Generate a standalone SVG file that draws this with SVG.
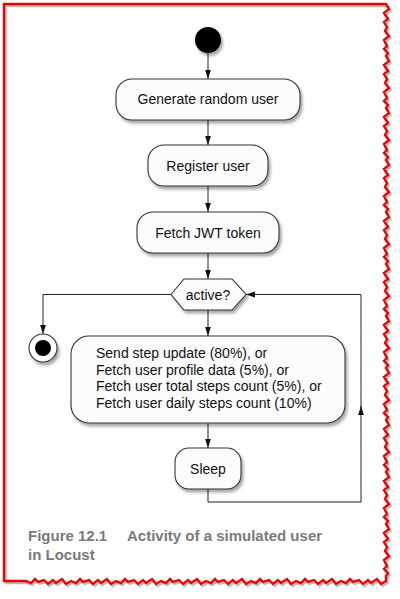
<svg xmlns="http://www.w3.org/2000/svg" width="400" height="599" viewBox="0 0 400 599">
<defs>
<marker id="ah" viewBox="0 0 10 10" refX="10" refY="5" markerWidth="9" markerHeight="9" markerUnits="userSpaceOnUse" orient="auto">
<path d="M0,1.8 L10,5 L0,8.2 Z" fill="#111"/>
</marker>
<filter id="sh" x="-20%" y="-20%" width="150%" height="160%">
<feGaussianBlur in="SourceAlpha" stdDeviation="1.6"/>
<feOffset dx="2" dy="2.5" result="b"/>
<feComponentTransfer><feFuncA type="linear" slope="0.35"/></feComponentTransfer>
<feMerge><feMergeNode/><feMergeNode in="SourceGraphic"/></feMerge>
</filter>
<path id="frame" fill="none" stroke-linejoin="miter" d="M4,4 L386,4
l3,5 l-5,4 l4,6 l-4,3 l3,5 l-2,4 l4,5 l-5,4 l3,6 l-3,3 l4,4 l-2,3
l3,5 l-5,4 l4,6 l-4,3 l3,5 l-2,4 l4,5 l-5,4 l3,6 l-3,3 l4,4 l-2,3
l3,5 l-5,4 l4,6 l-4,3 l3,5 l-2,4 l4,5 l-5,4 l3,6 l-3,3 l4,4 l-2,3
l3,5 l-5,4 l4,6 l-4,3 l3,5 l-2,4 l4,5 l-5,4 l3,6 l-3,3 l4,4 l-2,3
l3,5 l-5,4 l4,6 l-4,3 l3,5 l-2,4 l4,5 l-5,4 l3,6 l-3,3 l4,4 l-2,3
l3,5 l-5,4 l4,6 l-4,3 l3,5 l-2,4 l4,5 l-5,4 l3,6 l-3,3 l4,4 l-2,3
l3,5 l-5,4 l4,6 l-4,3 l3,5 l-2,4 l4,5 l-5,4 l3,6 l-3,3 l4,4 l-2,3
l3,5 l-5,4 l4,6 l-4,3 l3,5 l-2,4 l4,5 l-5,4 l3,6 l-3,3 l4,4 l-2,3
l3,5 l-5,4 l4,6 l-4,3 l3,5 l-2,4 l4,5 l-5,4 l3,6 l-3,3 l4,4 l-2,3
l3,5 l-5,4 l4,6 l-4,3 l3,5 l-2,4 l4,5 l-5,4 l3,6 l-3,3 l4,4 l-2,3
l3,5 l-5,4 l4,6 l-4,3 l3,5 l-2,4 l4,5 l-5,4 l3,6 l-3,3 l4,4 l-2,3
L386,581
l-5,3 l-4,-5 l-6,4 l-3,-3 l-5,4 l-4,-4 l-6,2 l-3,-3 l-4,4 l-5,-2
l-5,3 l-4,-5 l-6,4 l-3,-3 l-5,4 l-4,-4 l-6,2 l-3,-3 l-4,4 l-5,-2
l-5,3 l-4,-5 l-6,4 l-3,-3 l-5,4 l-4,-4 l-6,2 l-3,-3 l-4,4 l-5,-2
l-5,3 l-4,-5 l-6,4 l-3,-3 l-5,4 l-4,-4 l-6,2 l-3,-3 l-4,4 l-5,-2
l-5,3 l-4,-5 l-6,4 l-3,-3 l-5,4 l-4,-4 l-6,2 l-3,-3 l-4,4 l-5,-2
l-5,3 l-4,-5 l-6,4 l-3,-3 l-5,4 l-4,-4 l-6,2 l-3,-3 l-4,4 l-5,-2
l-5,3 l-4,-5 l-6,4 l-3,-3 l-5,4 l-4,-4 l-6,2 l-3,-3 l-4,4 l-5,-2
l-5,3 l-4,-5 l-6,4 l-3,-3 l-5,4 l-4,-4 l-6,2 l-3,-3 l-4,4 l-5,-2
L4,581 Z"/>
</defs>
<style>
.box{fill:#fcfcfc;stroke:#333;stroke-width:1.1;filter:url(#sh)}
.t{font-family:"Liberation Sans",Arial,sans-serif;font-size:14px;fill:#111}
.c{text-anchor:middle}
.ln{fill:none;stroke:#222;stroke-width:1}
.cap{font-family:"Liberation Sans",Arial,sans-serif;font-size:15px;font-weight:bold;fill:#7a7a7a}
</style>
<rect width="400" height="599" fill="#fff"/>
<use href="#frame" x="1.5" y="2" stroke="#bbb" stroke-width="2.4"/>
<use href="#frame" stroke="#e00" stroke-width="2.4"/>

<g id="connectors">
<line class="ln" x1="208" y1="53" x2="208" y2="79" marker-end="url(#ah)"/>
<line class="ln" x1="208" y1="120" x2="208" y2="145" marker-end="url(#ah)"/>
<line class="ln" x1="208" y1="186" x2="208" y2="212" marker-end="url(#ah)"/>
<line class="ln" x1="208" y1="253" x2="208" y2="279" marker-end="url(#ah)"/>
<line class="ln" x1="208" y1="310" x2="208" y2="336" marker-end="url(#ah)"/>
<polyline class="ln" points="171,294.5 43,294.5 43,334" marker-end="url(#ah)"/>
<line class="ln" x1="208" y1="423" x2="208" y2="448" marker-end="url(#ah)"/>
<polyline class="ln" points="208,489 208,502 361,502 361,406" marker-end="url(#ah)"/>
<polyline class="ln" points="361,410 361,294.5 246,294.5" marker-end="url(#ah)"/>
</g>

<g id="start"><circle cx="208" cy="40" r="13" fill="#000" filter="url(#sh)"/></g>

<g id="generate">
<rect class="box" x="116" y="79" width="184" height="41" rx="16"/>
<text class="t c" x="208" y="104">Generate random user</text>
</g>
<g id="register">
<rect class="box" x="148" y="145" width="120" height="41" rx="16"/>
<text class="t c" x="208" y="170.5">Register user</text>
</g>
<g id="jwt">
<rect class="box" x="137" y="212" width="142" height="41" rx="16"/>
<text class="t c" x="208" y="237.5">Fetch JWT token</text>
</g>
<g id="active">
<polygon class="box" points="171,294.5 184,279 232,279 246,294.5 232,310 184,310"/>
<text class="t c" x="208" y="299.5">active?</text>
</g>
<g id="end">
<circle cx="43" cy="348" r="14" fill="#fff" stroke="#333" stroke-width="1.1" filter="url(#sh)"/>
<circle cx="43" cy="348" r="8" fill="#000"/>
</g>
<g id="actions">
<rect class="box" x="71" y="336" width="274" height="87" rx="18"/>
<text class="t" x="96" y="358">Send step update (80%), or</text>
<text class="t" x="96" y="374.5">Fetch user profile data (5%), or</text>
<text class="t" x="96" y="391">Fetch user total steps count (5%), or</text>
<text class="t" x="96" y="407.5">Fetch user daily steps count (10%)</text>
</g>
<g id="sleep">
<rect class="box" x="175" y="448" width="66" height="41" rx="14"/>
<text class="t c" x="208" y="473.5">Sleep</text>
</g>
<g id="caption">
<text class="cap" x="28" y="541">Figure 12.1<tspan x="127">Activity of a simulated user</tspan></text>
<text class="cap" x="28" y="560">in Locust</text>
</g>
</svg>
